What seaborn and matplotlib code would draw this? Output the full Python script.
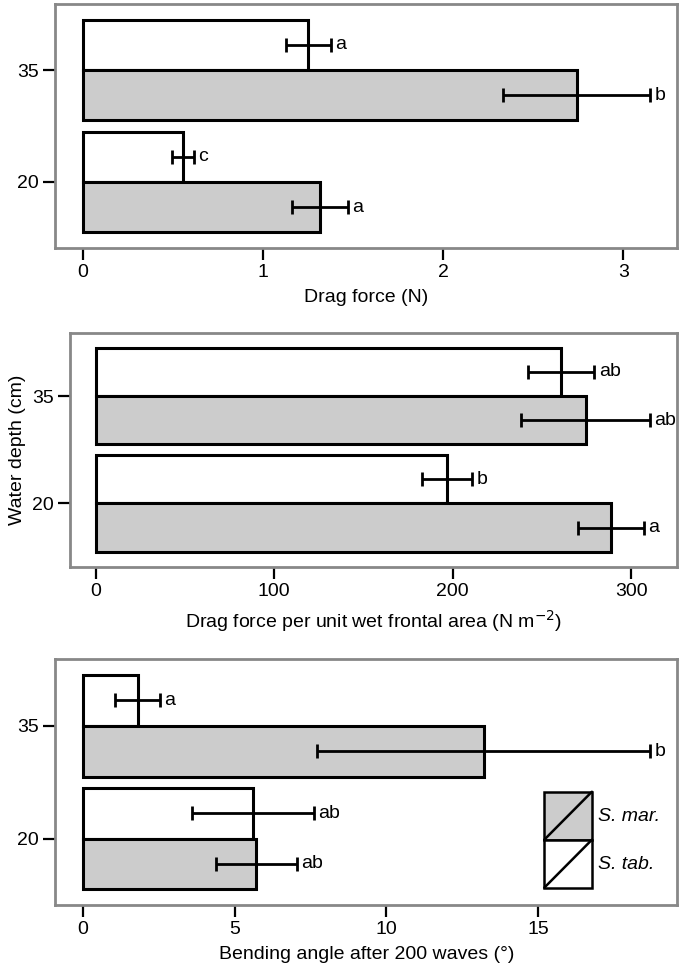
import numpy as np
import pandas as pd
import matplotlib
matplotlib.use("Agg")
import matplotlib.pyplot as plt
import seaborn as sns
from matplotlib.patches import Rectangle
from matplotlib.lines import Line2D
from matplotlib.legend_handler import HandlerBase

# data, depth order top -> bottom
depths = ["35", "20"]
species = ["S. tab.", "S. mar."]

drag_tab = [1.25, 0.556]
drag_tab_err = [0.125, 0.062]
drag_mar = [2.74, 1.316]
drag_mar_err = [0.41, 0.155]
drag_tab_let = ["a", "c"]
drag_mar_let = ["b", "a"]

area_tab = [261, 197]
area_tab_err = [18.5, 14]
area_mar = [274.5, 289]
area_mar_err = [36.2, 18.5]
area_tab_let = ["ab", "b"]
area_mar_let = ["ab", "a"]

bend_tab = [1.81, 5.61]
bend_tab_err = [0.75, 2.0]
bend_mar = [13.2, 5.72]
bend_mar_err = [5.48, 1.32]
bend_tab_let = ["a", "ab"]
bend_mar_let = ["b", "ab"]

sns.set_style("white")
plt.rcParams['font.family'] = ['Liberation Sans', 'DejaVu Sans']
plt.rcParams['font.size'] = 14
for k in ["text.color", "axes.labelcolor", "xtick.color", "ytick.color"]:
    plt.rcParams[k] = "black"

GREY = "#cccccc"
FRAME = "#888888"


def make_df(tab, mar, tab_err, mar_err, tab_let, mar_let):
    rows = []
    for i, d in enumerate(depths):
        rows.append(dict(depth=d, sp="S. tab.", val=tab[i], err=tab_err[i], let=tab_let[i]))
        rows.append(dict(depth=d, sp="S. mar.", val=mar[i], err=mar_err[i], let=mar_let[i]))
    return pd.DataFrame(rows)


def panel(ax, df, xlim, xticks, xlabel):
    sns.barplot(data=df, x="val", y="depth", hue="sp", order=depths, hue_order=species,
                orient="h", palette={"S. tab.": "white", "S. mar.": GREY},
                width=0.9, errorbar=None, edgecolor="black", linewidth=2.2,
                legend=False, ax=ax)
    # error bars + letters, positioned from the bars seaborn drew
    for bar in ax.patches:
        yc = bar.get_y() + bar.get_height() / 2
        w = bar.get_width()
        row = df[np.isclose(df["val"], w)].iloc[0]
        ax.errorbar(w, yc, xerr=row["err"], fmt="none", ecolor="black",
                    elinewidth=2, capsize=4.8, capthick=2, zorder=5)
        ax.annotate(row["let"], (w + row["err"], yc), xytext=(3, 0),
                    textcoords="offset points", ha="left", va="center", fontsize=14)
    ax.set_xlim(*xlim)
    ax.set_ylim(1.59, -0.59)
    ax.set_xticks(xticks)
    ax.set_xlabel(xlabel, labelpad=6)
    ax.set_ylabel("")
    for s in ax.spines.values():
        s.set_visible(True)
        s.set_color(FRAME)
        s.set_linewidth(2)
    ax.tick_params(axis="both", which="both", direction="out", length=8.5, width=1.6,
                   color="black", labelcolor="black", labelsize=14, pad=3,
                   left=True, bottom=True)


class BoxDiag(HandlerBase):
    def create_artists(self, legend, orig_handle, xdescent, ydescent, width, height, fontsize, trans):
        r = Rectangle((-xdescent, -ydescent), width, height, facecolor=orig_handle.get_facecolor(),
                      edgecolor="black", linewidth=1.8, transform=trans)
        l = Line2D([-xdescent, -xdescent + width], [-ydescent, -ydescent + height],
                   color="black", linewidth=1.8, transform=trans)
        return [r, l]


fig = plt.figure(figsize=(6.81, 9.72), dpi=100)
ax1 = fig.add_axes([0.0808, 0.7449, 0.9140, 0.2510])
ax2 = fig.add_axes([0.1023, 0.4170, 0.8925, 0.2407])
ax3 = fig.add_axes([0.0808, 0.0689, 0.9140, 0.2528])

panel(ax1, make_df(drag_tab, drag_mar, drag_tab_err, drag_mar_err, drag_tab_let, drag_mar_let),
      (-0.155, 3.30), [0, 1, 2, 3], "Drag force (N)")
panel(ax2, make_df(area_tab, area_mar, area_tab_err, area_mar_err, area_tab_let, area_mar_let),
      (-14.6, 326), [0, 100, 200, 300], "Drag force per unit wet frontal area (N m$^{-2}$)")
panel(ax3, make_df(bend_tab, bend_mar, bend_tab_err, bend_mar_err, bend_tab_let, bend_mar_let),
      (-0.91, 19.58), [0, 5, 10, 15], "Bending angle after 200 waves (°)")
ax2.set_ylabel("Water depth (cm)", fontsize=14, labelpad=4)

h_mar = Rectangle((0, 0), 1, 1, facecolor=GREY)
h_tab = Rectangle((0, 0), 1, 1, facecolor="white")
leg = ax3.legend([h_mar, h_tab], ["S. mar.", "S. tab."],
                 handler_map={Rectangle: BoxDiag()}, loc="upper left",
                 bbox_to_anchor=(0.786, 0.461), borderaxespad=0, borderpad=0,
                 frameon=False, handlelength=2.45, handleheight=3.42,
                 labelspacing=0, handletextpad=0.3, prop={"style": "italic", "size": 14})

fig.savefig("out.png", dpi=100)
